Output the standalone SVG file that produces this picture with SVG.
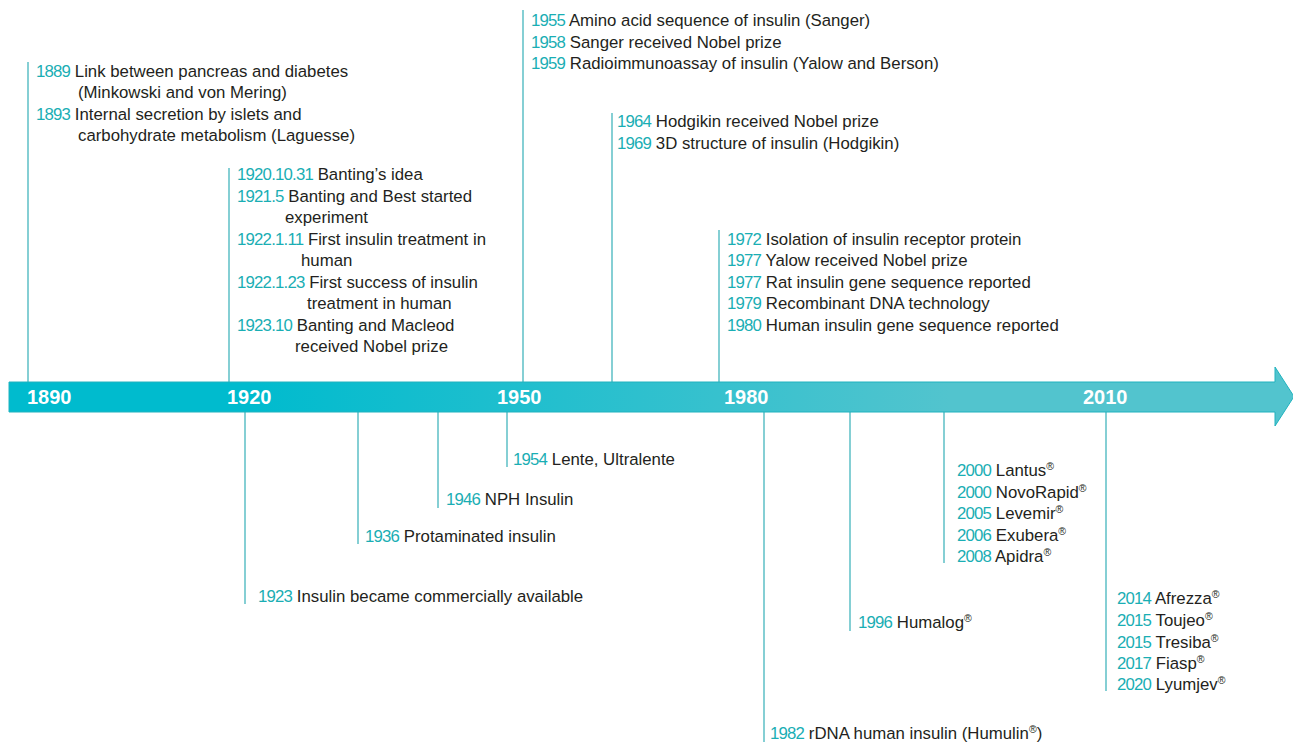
<svg xmlns="http://www.w3.org/2000/svg" width="1293" height="742" viewBox="0 0 1293 742">
<style>
.t{font-family:"Liberation Sans",Arial,sans-serif;font-size:16.8px;fill:#231f20}
.y{fill:#1aaeb4;letter-spacing:-0.8px}
.yr{font-family:"Liberation Sans",Arial,sans-serif;font-size:20px;font-weight:bold;fill:#ffffff}
.ln{stroke:#5cbfc6;stroke-width:1.5;fill:none}
.r{font-size:10.5px}
</style>
<defs>
<linearGradient id="bar" gradientUnits="userSpaceOnUse" x1="250" y1="0" x2="950" y2="0">
<stop offset="0" stop-color="#00bbce"/>
<stop offset="1" stop-color="#52c4ce"/>
</linearGradient>
</defs>
<rect width="1293" height="742" fill="#ffffff"/>
<g id="connectors">
<line class="ln" x1="28" y1="62" x2="28" y2="382"/>
<line class="ln" x1="229" y1="168" x2="229" y2="382"/>
<line class="ln" x1="523" y1="10" x2="523" y2="382"/>
<line class="ln" x1="612" y1="113" x2="612" y2="382"/>
<line class="ln" x1="719" y1="230" x2="719" y2="382"/>
<line class="ln" x1="245" y1="412" x2="245" y2="604"/>
<line class="ln" x1="358" y1="412" x2="358" y2="544"/>
<line class="ln" x1="438" y1="412" x2="438" y2="508"/>
<line class="ln" x1="507" y1="412" x2="507" y2="467"/>
<line class="ln" x1="764" y1="412" x2="764" y2="742"/>
<line class="ln" x1="850" y1="412" x2="850" y2="631"/>
<line class="ln" x1="944" y1="412" x2="944" y2="563"/>
<line class="ln" x1="1106" y1="412" x2="1106" y2="691"/>
</g>
<g id="timeline">
<polygon points="9,382 1275,382 1275,367 1294,396.5 1275,426 1275,412 9,412" fill="url(#bar)" stroke="#20b2be" stroke-width="1"/>
<text class="yr" x="27" y="404">1890</text>
<text class="yr" x="227" y="404">1920</text>
<text class="yr" x="497" y="404">1950</text>
<text class="yr" x="724" y="404">1980</text>
<text class="yr" x="1083" y="404">2010</text>
</g>
<g id="n1889">
<text class="t" x="36" y="77"><tspan class="y">1889</tspan> Link between pancreas and diabetes</text>
<text class="t" x="78" y="98">(Minkowski and von Mering)</text>
<text class="t" x="36" y="120"><tspan class="y">1893</tspan> Internal secretion by islets and</text>
<text class="t" x="78" y="141">carbohydrate metabolism (Laguesse)</text>
</g>
<g id="n1920">
<text class="t" x="237" y="180"><tspan class="y">1920.10.31</tspan> Banting’s idea</text>
<text class="t" x="237" y="202"><tspan class="y">1921.5</tspan> Banting and Best started</text>
<text class="t" x="285" y="223">experiment</text>
<text class="t" x="237" y="245"><tspan class="y">1922.1.11</tspan> First insulin treatment in</text>
<text class="t" x="301" y="266">human</text>
<text class="t" x="237" y="288"><tspan class="y">1922.1.23</tspan> First success of insulin</text>
<text class="t" x="307" y="309">treatment in human</text>
<text class="t" x="237" y="331"><tspan class="y">1923.10</tspan> Banting and Macleod</text>
<text class="t" x="295" y="352">received Nobel prize</text>
</g>
<g id="n1955">
<text class="t" x="531" y="26"><tspan class="y">1955</tspan> Amino acid sequence of insulin (Sanger)</text>
<text class="t" x="531" y="48"><tspan class="y">1958</tspan> Sanger received Nobel prize</text>
<text class="t" x="531" y="69"><tspan class="y">1959</tspan> Radioimmunoassay of insulin (Yalow and Berson)</text>
</g>
<g id="n1964">
<text class="t" x="617" y="127"><tspan class="y">1964</tspan> Hodgikin received Nobel prize</text>
<text class="t" x="617" y="149"><tspan class="y">1969</tspan> 3D structure of insulin (Hodgikin)</text>
</g>
<g id="n1972">
<text class="t" x="727" y="245"><tspan class="y">1972</tspan> Isolation of insulin receptor protein</text>
<text class="t" x="727" y="266"><tspan class="y">1977</tspan> Yalow received Nobel prize</text>
<text class="t" x="727" y="288"><tspan class="y">1977</tspan> Rat insulin gene sequence reported</text>
<text class="t" x="727" y="309"><tspan class="y">1979</tspan> Recombinant DNA technology</text>
<text class="t" x="727" y="331"><tspan class="y">1980</tspan> Human insulin gene sequence reported</text>
</g>
<g id="n1954">
<text class="t" x="513" y="465"><tspan class="y">1954</tspan> Lente, Ultralente</text>
</g>
<g id="n1946">
<text class="t" x="446" y="505"><tspan class="y">1946</tspan> NPH Insulin</text>
</g>
<g id="n1936">
<text class="t" x="365" y="542"><tspan class="y">1936</tspan> Protaminated insulin</text>
</g>
<g id="n1923">
<text class="t" x="258" y="602"><tspan class="y">1923</tspan> Insulin became commercially available</text>
</g>
<g id="n1982">
<text class="t" x="770" y="739"><tspan class="y">1982</tspan> rDNA human insulin (Humulin<tspan class="r" dy="-6">®</tspan><tspan dy="6">)</tspan></text>
</g>
<g id="n1996">
<text class="t" x="858" y="628"><tspan class="y">1996</tspan> Humalog<tspan class="r" dy="-6">®</tspan></text>
</g>
<g id="n2000">
<text class="t" x="957" y="476"><tspan class="y">2000</tspan> Lantus<tspan class="r" dy="-6">®</tspan></text>
<text class="t" x="957" y="498"><tspan class="y">2000</tspan> NovoRapid<tspan class="r" dy="-6">®</tspan></text>
<text class="t" x="957" y="519"><tspan class="y">2005</tspan> Levemir<tspan class="r" dy="-6">®</tspan></text>
<text class="t" x="957" y="541"><tspan class="y">2006</tspan> Exubera<tspan class="r" dy="-6">®</tspan></text>
<text class="t" x="957" y="562"><tspan class="y">2008</tspan> Apidra<tspan class="r" dy="-6">®</tspan></text>
</g>
<g id="n2014">
<text class="t" x="1117" y="604"><tspan class="y">2014</tspan> Afrezza<tspan class="r" dy="-6">®</tspan></text>
<text class="t" x="1117" y="626"><tspan class="y">2015</tspan> Toujeo<tspan class="r" dy="-6">®</tspan></text>
<text class="t" x="1117" y="648"><tspan class="y">2015</tspan> Tresiba<tspan class="r" dy="-6">®</tspan></text>
<text class="t" x="1117" y="669"><tspan class="y">2017</tspan> Fiasp<tspan class="r" dy="-6">®</tspan></text>
<text class="t" x="1117" y="690"><tspan class="y">2020</tspan> Lyumjev<tspan class="r" dy="-6">®</tspan></text>
</g>
</svg>
